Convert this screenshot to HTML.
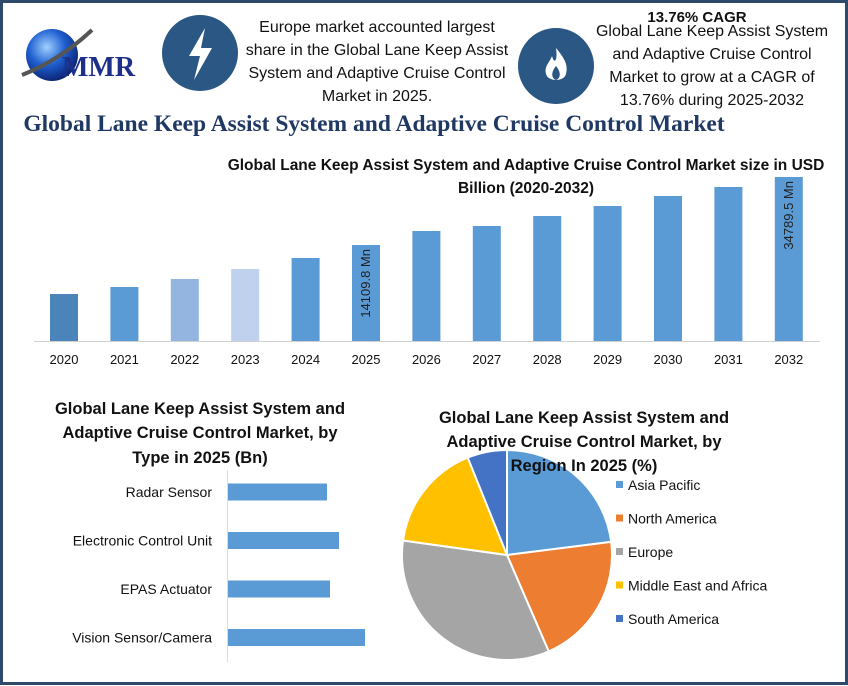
<!DOCTYPE html>
<html><head><meta charset="utf-8"><style>
body{margin:0;background:#fff;}
#wrap{position:relative;width:848px;height:686px;overflow:hidden;font-family:"Liberation Sans",sans-serif;}
</style></head><body>
<div id="wrap">
<svg id="svg" width="848" height="686" xmlns="http://www.w3.org/2000/svg">
<rect x="1.5" y="1.5" width="845" height="682" fill="#fff" stroke="#2e4a6b" stroke-width="3"/>
<g>
<defs><radialGradient id="gl" cx="0.4" cy="0.35" r="0.7"><stop offset="0" stop-color="#9fd0ff"/><stop offset="0.5" stop-color="#1f5fd0"/><stop offset="1" stop-color="#0a1d6a"/></radialGradient></defs>
<circle cx="52" cy="55" r="26" fill="url(#gl)"/>
<path d="M22 75 Q60 60 92 30" stroke="#555" stroke-width="4" fill="none"/>
<text x="62" y="76" font-family="Liberation Serif,serif" font-weight="bold" font-size="28" fill="#1e2f8a">MMR</text>
</g>
<circle cx="200" cy="53" r="38" fill="#2a5783"/>
<path d="M205 28 L189 56 L200 56 L194 80 L212 48 L201 48 Z" fill="#fff"/>
<circle cx="556" cy="66" r="38" fill="#2a5783"/>
<path d="M556 48 C566 60 568 66 566 74 C564 82 548 82 546 74 C544 66 550 62 552 56 C554 64 558 62 556 48 Z" fill="#fff"/>
<path d="M556 66 C561 72 561 78 556 80 C551 78 551 72 556 66Z" fill="#2a5783"/>
<g font-size="16" fill="#111" text-anchor="middle">
<text x="377" y="32">Europe market accounted largest</text>
<text x="377" y="55">share in the Global Lane Keep Assist</text>
<text x="377" y="78">System and Adaptive Cruise Control</text>
<text x="377" y="101">Market in 2025.</text>
</g>
<text x="697" y="22" font-size="15" font-weight="bold" text-anchor="middle" fill="#111">13.76% CAGR</text>
<g font-size="16" fill="#111" text-anchor="middle">
<text x="712" y="36">Global Lane Keep Assist System</text>
<text x="712" y="59">and Adaptive Cruise Control</text>
<text x="712" y="82">Market to grow at a CAGR of</text>
<text x="712" y="105">13.76% during 2025-2032</text>
</g>
<text x="374" y="131" font-family="Liberation Serif,serif" font-weight="bold" font-size="23.5" fill="#1f3864" text-anchor="middle">Global Lane Keep Assist System and Adaptive Cruise Control Market</text>
<g font-size="15.5" font-weight="bold" fill="#111" text-anchor="middle">
<text x="526" y="170">Global Lane Keep Assist System and Adaptive Cruise Control Market size in USD</text>
<text x="526" y="193">Billion (2020-2032)</text>
</g>
<line x1="34" y1="341.5" x2="820" y2="341.5" stroke="#d0d0d0"/>
<g id="bars"></g>
<g font-size="16.5" font-weight="bold" fill="#111" text-anchor="middle">
<text x="200" y="414">Global Lane Keep Assist System and</text>
<text x="200" y="438">Adaptive Cruise Control Market, by</text>
<text x="200" y="463">Type in 2025 (Bn)</text>
</g>
<line x1="227.5" y1="470" x2="227.5" y2="662" stroke="#ddd"/>
<g id="hbars"></g>
<g id="pie"></g>
<g font-size="16.5" font-weight="bold" fill="#111" text-anchor="middle">
<text x="584" y="423">Global Lane Keep Assist System and</text>
<text x="584" y="447">Adaptive Cruise Control Market, by</text>
<text x="584" y="471">Region In 2025 (%)</text>
</g>
<g id="legend"></g>
</svg>
</div>
<script>
const years=["2020","2021","2022","2023","2024","2025","2026","2027","2028","2029","2030","2031","2032"];
const marketValues=[9970,11455,13152,15274,17607,20365,23335,24396,26517,28638,30760,32670,34790];
const barLabels={"2025":"14109.8 Mn","2032":"34789.5 Mn"};
const types=["Radar Sensor","Electronic Control Unit","EPAS Actuator","Vision Sensor/Camera"];
const typeValues=[99,111,102,137];
const regions=["Asia Pacific","North America","Europe","Middle East and Africa","South America"];
const regionShares=[23,20.5,33.7,16.7,6.1];
const NS="http://www.w3.org/2000/svg";
function mk(t,a,p){const e=document.createElementNS(NS,t);for(const k in a)e.setAttribute(k,a[k]);p.appendChild(e);return e;}
const barColors=["#4a84ba","#5b9bd5","#93b5df","#bfd1ec"];
const base=341,maxH=164,maxV=34790;
const x=i=>50+i*60.4, y=v=>base-v/maxV*maxH;
const gb=document.getElementById('bars');
years.forEach((yr,i)=>{
  const r=mk('rect',{x:x(i),y:y(marketValues[i]),width:28,height:base-y(marketValues[i]),fill:barColors[i]||"#5b9bd5"},gb);
  
  
  const t=mk('text',{x:x(i)+14,y:364,"font-size":13,"text-anchor":"middle",fill:"#111"},gb);t.textContent=yr;
  
  
  if(barLabels[yr]){const cx=x(i)+18,cy=y(marketValues[i])+4;
    const l=mk('text',{x:cx,y:cy,"font-size":13,fill:"#222","text-anchor":"end",transform:`rotate(-90 ${cx} ${cy})`},gb);l.textContent=barLabels[yr];
    
    }
});
const gh=document.getElementById('hbars');
types.forEach((t,i)=>{const cy=492+i*48.5;
  const r=mk('rect',{x:228,y:cy-8.5,width:typeValues[i],height:17,fill:"#5b9bd5"},gh);
  
  
  const l=mk('text',{x:212,y:cy+5,"font-size":14,"text-anchor":"end",fill:"#111"},gh);l.textContent=t;
  
  
});
const pieColors=["#5b9bd5","#ed7d31","#a5a5a5","#ffc000","#4472c4"];
const gp=document.getElementById('pie'),cx=507,cy=555,R=105;
const tot=regionShares.reduce((a,b)=>a+b,0);let a0=0;
regionShares.forEach((s,i)=>{const a1=a0+s/tot*2*Math.PI;
  const p=(a)=>[cx+R*Math.sin(a),cy-R*Math.cos(a)];const [x0,y0]=p(a0),[x1,y1]=p(a1);
  const path=mk('path',{d:`M${cx} ${cy}L${x0} ${y0}A${R} ${R} 0 ${a1-a0>Math.PI?1:0} 1 ${x1} ${y1}Z`,fill:pieColors[i],stroke:"#fff","stroke-width":2},gp);
  
  
  a0=a1;});
const gl=document.getElementById('legend');
regions.forEach((r,i)=>{const ly=486+i*33.5;
  mk('rect',{x:616,y:ly-5,width:7,height:7,fill:pieColors[i]},gl);
  const t=mk('text',{x:628,y:ly+4,"font-size":14,fill:"#111"},gl);t.textContent=r;
  
  });
</script>
</body></html>
